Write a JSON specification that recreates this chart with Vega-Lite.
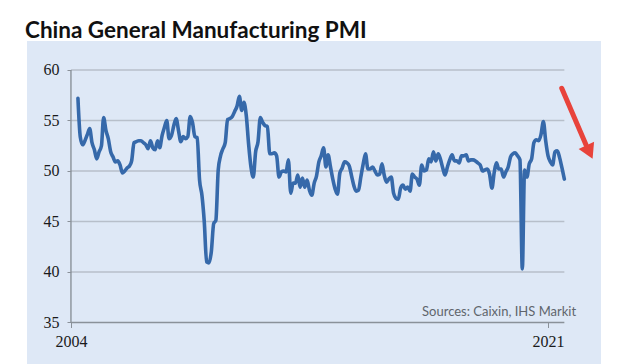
{
  "$schema": "https://vega.github.io/schema/vega-lite/v6.json",
  "width": 574,
  "height": 323,
  "autosize": {"type": "none"},
  "padding": {"left": 27, "top": 41, "right": 19, "bottom": 0},
  "background": "#ffffff",
  "config": {"view": {"fill": "#dee8f6", "stroke": null}},
  "title": {"text": "China General Manufacturing PMI", "anchor": "start", "frame": "group", "font": "Lato", "fontSize": 22.5, "fontWeight": "bold", "color": "#111111", "offset": 10, "baseline": "alphabetic", "dx": -2, "dy": 29},
  "datasets": {
    "pmi": [
      {"d":"2004-04","v":57.2},{"d":"2004-05","v":53.4},{"d":"2004-06","v":52.6},{"d":"2004-07","v":53.0},{"d":"2004-08","v":53.6},{"d":"2004-09","v":54.2},{"d":"2004-10","v":52.8},{"d":"2004-11","v":52.1},{"d":"2004-12","v":51.2},
      {"d":"2005-01","v":51.9},{"d":"2005-02","v":52.5},{"d":"2005-03","v":55.3},{"d":"2005-04","v":54.0},{"d":"2005-05","v":53.2},{"d":"2005-06","v":51.9},{"d":"2005-07","v":51.4},{"d":"2005-08","v":50.9},{"d":"2005-09","v":51.0},{"d":"2005-10","v":50.6},{"d":"2005-11","v":49.8},{"d":"2005-12","v":50.0},
      {"d":"2006-01","v":50.3},{"d":"2006-02","v":50.5},{"d":"2006-03","v":51.0},{"d":"2006-04","v":52.8},{"d":"2006-05","v":52.9},{"d":"2006-06","v":53.0},{"d":"2006-07","v":53.0},{"d":"2006-08","v":52.8},{"d":"2006-09","v":52.6},{"d":"2006-10","v":52.2},{"d":"2006-11","v":53.0},{"d":"2006-12","v":52.3},
      {"d":"2007-01","v":52.1},{"d":"2007-02","v":53.0},{"d":"2007-03","v":52.3},{"d":"2007-04","v":53.5},{"d":"2007-05","v":54.3},{"d":"2007-06","v":55.0},{"d":"2007-07","v":53.2},{"d":"2007-08","v":53.5},{"d":"2007-09","v":54.5},{"d":"2007-10","v":55.2},{"d":"2007-11","v":54.0},{"d":"2007-12","v":52.9},
      {"d":"2008-01","v":53.4},{"d":"2008-02","v":53.2},{"d":"2008-03","v":53.4},{"d":"2008-04","v":55.4},{"d":"2008-05","v":54.8},{"d":"2008-06","v":53.4},{"d":"2008-07","v":53.3},{"d":"2008-08","v":49.1},{"d":"2008-09","v":47.6},{"d":"2008-10","v":45.0},{"d":"2008-11","v":41.0},{"d":"2008-12","v":40.9},
      {"d":"2009-01","v":42.0},{"d":"2009-02","v":44.8},{"d":"2009-03","v":45.1},{"d":"2009-04","v":50.1},{"d":"2009-05","v":51.5},{"d":"2009-06","v":52.2},{"d":"2009-07","v":52.8},{"d":"2009-08","v":55.1},{"d":"2009-09","v":55.2},{"d":"2009-10","v":55.4},{"d":"2009-11","v":55.9},{"d":"2009-12","v":56.4},
      {"d":"2010-01","v":57.4},{"d":"2010-02","v":56.0},{"d":"2010-03","v":56.8},{"d":"2010-04","v":55.5},{"d":"2010-05","v":52.7},{"d":"2010-06","v":50.4},{"d":"2010-07","v":49.4},{"d":"2010-08","v":51.9},{"d":"2010-09","v":52.9},{"d":"2010-10","v":55.3},{"d":"2010-11","v":54.8},{"d":"2010-12","v":54.5},
      {"d":"2011-01","v":54.4},{"d":"2011-02","v":51.7},{"d":"2011-03","v":51.7},{"d":"2011-04","v":51.8},{"d":"2011-05","v":51.5},{"d":"2011-06","v":49.4},{"d":"2011-07","v":49.9},{"d":"2011-08","v":50.0},{"d":"2011-09","v":49.9},{"d":"2011-10","v":51.1},{"d":"2011-11","v":47.8},{"d":"2011-12","v":48.8},
      {"d":"2012-01","v":48.8},{"d":"2012-02","v":49.6},{"d":"2012-03","v":48.4},{"d":"2012-04","v":49.3},{"d":"2012-05","v":48.4},{"d":"2012-06","v":49.1},{"d":"2012-07","v":48.1},{"d":"2012-08","v":47.6},{"d":"2012-09","v":48.8},{"d":"2012-10","v":49.5},{"d":"2012-11","v":50.9},{"d":"2012-12","v":51.5},
      {"d":"2013-01","v":52.3},{"d":"2013-02","v":50.4},{"d":"2013-03","v":51.6},{"d":"2013-04","v":50.4},{"d":"2013-05","v":49.2},{"d":"2013-06","v":48.2},{"d":"2013-07","v":47.7},{"d":"2013-08","v":49.8},{"d":"2013-09","v":50.3},{"d":"2013-10","v":50.9},{"d":"2013-11","v":50.8},{"d":"2013-12","v":50.5},
      {"d":"2014-01","v":49.5},{"d":"2014-02","v":48.5},{"d":"2014-03","v":48.0},{"d":"2014-04","v":48.1},{"d":"2014-05","v":49.4},{"d":"2014-06","v":50.7},{"d":"2014-07","v":51.7},{"d":"2014-08","v":50.2},{"d":"2014-09","v":50.2},{"d":"2014-10","v":50.4},{"d":"2014-11","v":50.0},{"d":"2014-12","v":49.6},
      {"d":"2015-01","v":49.7},{"d":"2015-02","v":50.7},{"d":"2015-03","v":49.6},{"d":"2015-04","v":48.9},{"d":"2015-05","v":49.2},{"d":"2015-06","v":49.4},{"d":"2015-07","v":47.8},{"d":"2015-08","v":47.3},{"d":"2015-09","v":47.2},{"d":"2015-10","v":48.3},{"d":"2015-11","v":48.6},{"d":"2015-12","v":48.2},
      {"d":"2016-01","v":48.4},{"d":"2016-02","v":48.0},{"d":"2016-03","v":49.7},{"d":"2016-04","v":49.4},{"d":"2016-05","v":49.2},{"d":"2016-06","v":48.6},{"d":"2016-07","v":50.6},{"d":"2016-08","v":50.0},{"d":"2016-09","v":50.1},{"d":"2016-10","v":51.2},{"d":"2016-11","v":50.9},{"d":"2016-12","v":51.9},
      {"d":"2017-01","v":51.0},{"d":"2017-02","v":51.7},{"d":"2017-03","v":51.2},{"d":"2017-04","v":50.3},{"d":"2017-05","v":49.6},{"d":"2017-06","v":50.4},{"d":"2017-07","v":51.1},{"d":"2017-08","v":51.6},{"d":"2017-09","v":51.0},{"d":"2017-10","v":51.0},{"d":"2017-11","v":50.8},{"d":"2017-12","v":51.5},
      {"d":"2018-01","v":51.5},{"d":"2018-02","v":51.6},{"d":"2018-03","v":51.0},{"d":"2018-04","v":51.1},{"d":"2018-05","v":51.1},{"d":"2018-06","v":51.0},{"d":"2018-07","v":50.8},{"d":"2018-08","v":50.6},{"d":"2018-09","v":50.0},{"d":"2018-10","v":50.1},{"d":"2018-11","v":50.2},{"d":"2018-12","v":49.7},
      {"d":"2019-01","v":48.3},{"d":"2019-02","v":49.9},{"d":"2019-03","v":50.8},{"d":"2019-04","v":50.2},{"d":"2019-05","v":50.2},{"d":"2019-06","v":49.4},{"d":"2019-07","v":49.9},{"d":"2019-08","v":50.4},{"d":"2019-09","v":51.4},{"d":"2019-10","v":51.7},{"d":"2019-11","v":51.8},{"d":"2019-12","v":51.5},
      {"d":"2020-01","v":51.1},{"d":"2020-02","v":40.3},{"d":"2020-03","v":50.1},{"d":"2020-04","v":49.4},{"d":"2020-05","v":50.7},{"d":"2020-06","v":51.2},{"d":"2020-07","v":52.8},{"d":"2020-08","v":53.1},{"d":"2020-09","v":53.0},{"d":"2020-10","v":53.6},{"d":"2020-11","v":54.9},{"d":"2020-12","v":53.0},
      {"d":"2021-01","v":51.5},{"d":"2021-02","v":50.9},{"d":"2021-03","v":50.6},{"d":"2021-04","v":51.9},{"d":"2021-05","v":52.0},{"d":"2021-06","v":51.3},{"d":"2021-07","v":50.3},{"d":"2021-08","v":49.2}
    ],
    "grid": [{"v": 40}, {"v": 45}, {"v": 50}, {"v": 55}, {"v": 60}],
    "one": [{"note": "Sources: Caixin, IHS Markit"}]
  },
  "layer": [
    {
      "data": {"name": "grid"},
      "mark": {"type": "rule", "color": "#b7bfca", "strokeWidth": 1.3},
      "encoding": {
        "y": {"field": "v", "type": "quantitative"},
        "x": {"datum": {"year": 2004, "month": 1, "date": 1, "utc": true}, "type": "temporal"},
        "x2": {"datum": {"year": 2021, "month": 8, "date": 1, "utc": true}}
      }
    },
    {
      "data": {"name": "one"},
      "mark": {"type": "rule", "color": "#8a9199", "strokeWidth": 1.4},
      "encoding": {
        "y": {"datum": 35, "type": "quantitative"},
        "x": {"datum": {"year": 2004, "month": 1, "date": 1, "utc": true}, "type": "temporal"},
        "x2": {"datum": {"year": 2021, "month": 8, "date": 1, "utc": true}}
      }
    },
    {
      "data": {"name": "one"},
      "mark": {"type": "rule", "color": "#8a9199", "strokeWidth": 1.4},
      "encoding": {
        "x": {"datum": {"year": 2004, "month": 1, "date": 1, "utc": true}, "type": "temporal"},
        "y": {"datum": 35, "type": "quantitative"},
        "y2": {"datum": 60}
      }
    },
    {
      "data": {"name": "pmi"},
      "mark": {"type": "line", "color": "#3669aa", "strokeWidth": 3.6, "interpolate": "monotone", "strokeJoin": "round", "strokeCap": "round"},
      "encoding": {
        "x": {
          "field": "d", "type": "temporal",
          "scale": {"type": "utc", "domain": [{"year": 2002, "month": 6, "date": 8, "utc": true}, {"year": 2022, "month": 11, "date": 21, "utc": true}], "nice": false},
          "axis": {"values": [{"year": 2004, "month": 1, "date": 1, "utc": true}, {"year": 2021, "month": 1, "date": 1, "utc": true}], "format": "%Y", "title": null, "offset": -41.5, "domain": false, "grid": false, "ticks": true, "tickSize": 5, "tickColor": "#8a9199", "labelPadding": 6, "labelFont": "Liberation Sans Narrow", "labelFontSize": 16, "labelColor": "#1a1a1a", "labelFlush": false, "labelOverlap": false}
        },
        "y": {
          "field": "v", "type": "quantitative",
          "scale": {"domain": [30.89, 62.87], "nice": false, "zero": false},
          "axis": {"values": [35, 40, 45, 50, 55, 60], "title": null, "offset": -44, "domain": false, "grid": false, "ticks": true, "tickSize": 4, "tickColor": "#8a9199", "labelPadding": 8, "labelFont": "Liberation Sans Narrow", "labelFontSize": 16, "labelColor": "#1a1a1a", "labelFlush": false, "labelOverlap": false}
        }
      }
    },
    {
      "data": {"name": "one"},
      "mark": {"type": "text", "align": "right", "baseline": "alphabetic", "font": "Lato", "fontSize": 13, "color": "#60656c"},
      "encoding": {
        "text": {"field": "note"},
        "x": {"datum": {"year": 2022, "month": 1, "date": 1, "utc": true}, "type": "temporal"},
        "y": {"datum": 35.67, "type": "quantitative"}
      }
    },
    {
      "data": {"name": "one"},
      "mark": {"type": "rule", "color": "#e8433b", "strokeWidth": 5, "strokeCap": "round"},
      "encoding": {
        "x": {"datum": {"year": 2021, "month": 6, "date": 28, "utc": true}, "type": "temporal"},
        "y": {"datum": 58.19, "type": "quantitative"},
        "x2": {"datum": {"year": 2022, "month": 5, "date": 11, "utc": true}},
        "y2": {"datum": 52.57}
      }
    },
    {
      "data": {"name": "one"},
      "mark": {"type": "point", "shape": "triangle-down", "filled": true, "color": "#e8433b", "opacity": 1, "size": 290, "angle": 335},
      "encoding": {
        "x": {"datum": {"year": 2022, "month": 6, "date": 24, "utc": true}, "type": "temporal"},
        "y": {"datum": 51.88, "type": "quantitative"}
      }
    }
  ]
}
